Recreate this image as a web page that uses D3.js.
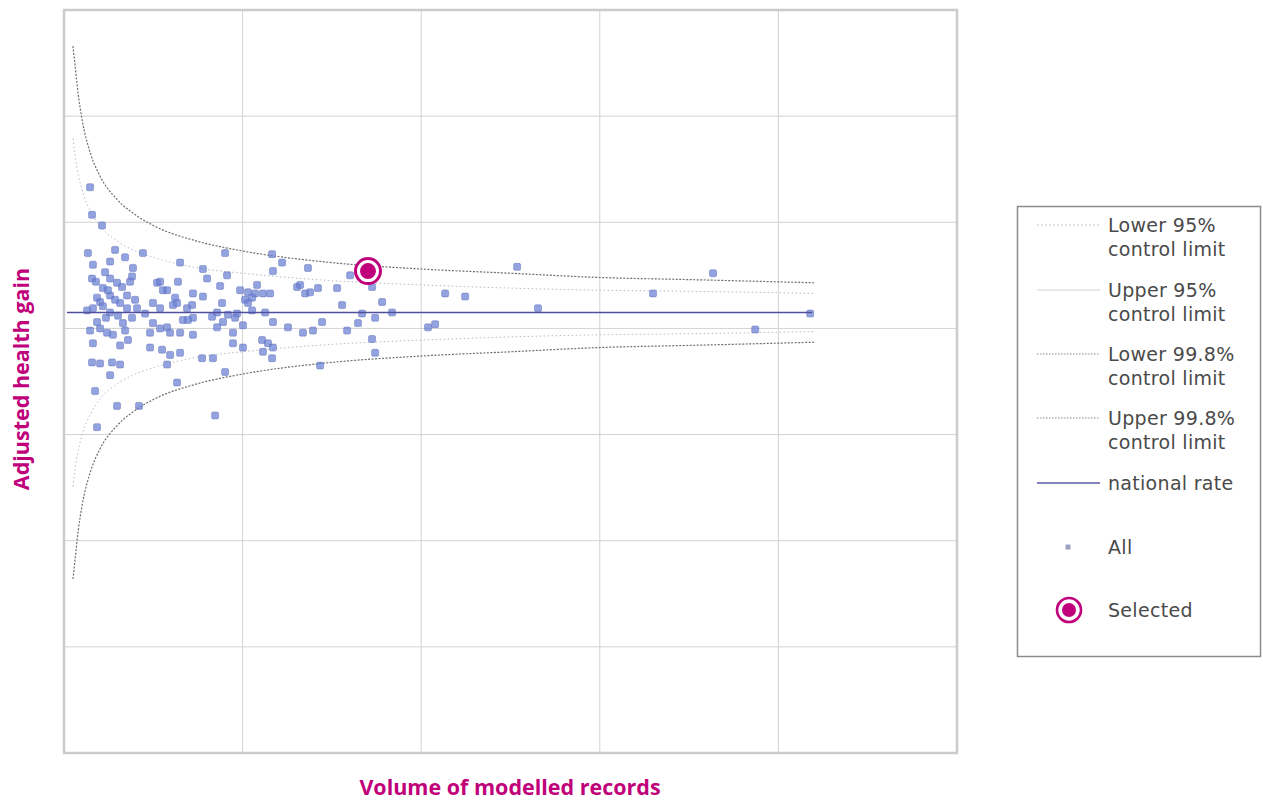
<!DOCTYPE html>
<html>
<head>
<meta charset="utf-8">
<script src="https://cdn.jsdelivr.net/npm/d3@7"></script>
<style>
    body { margin: 0; background: #fff; }
    svg { display: block; }
    .grid { stroke: #d2d2d2; stroke-width: 1; }
    .axisTitle { fill: #c0007a; font-family: "Open Sans", sans-serif; font-weight: bold; font-size: 21.5px; }
    .legendText { fill: #4a4a4a; font-family: "DejaVu Sans", Verdana, sans-serif; font-size: 19px; letter-spacing: 0.3px; }
</style>
</head>
<body>
<svg width="1263" height="802"></svg>
<script>
// values
const volumes = [146, 157, 213, 134, 286, 342, 162, 258, 386, 230, 381, 157, 258, 297, 218, 325, 370, 258, 353, 202,
    314, 409, 162, 218, 258, 353, 185, 241, 274, 330, 358, 162, 314, 157, 202, 269, 314, 258, 174, 297,
    420, 185, 129, 185, 286, 235, 202, 302, 381, 179, 246, 342, 398, 146, 442, 650, 778, 902, 801, 913,
    521, 638, 538, 554, 622, 498, 874, 722, 577, 778, 885, 610, 717, 857, 969, 538, 633, 689, 482, 538,
    594, 650, 482, 549, 594, 650, 577, 666, 722, 829, 918, 958, 890, 857, 722, 946, 946, 1002, 773, 834,
    902, 633, 846, 498, 577, 454, 694, 1030, 1070, 1114, 1154, 1014, 1053, 1030, 1053, 1126, 1170, 1002, 1109, 1142,
    1170, 1114, 1165, 1165, 1221, 1170, 1305, 1254, 1081, 986, 1366, 1602, 1725, 1322, 1350, 1378, 1422, 1529, 1781, 1557,
    1669, 1837, 1742, 1445, 1646, 1585, 1338, 1394, 1725, 1742, 1434, 2038, 2078, 2134, 2246, 2537, 2654, 3298, 3634, 3870,
    4178];
const gains = [53.3, 50.7, 49.7, 47.1, 47.4, 46.7, 46.0, 46.3, 45.7, 45.3, 44.9, 44.7, 44.7, 44.3, 43.8, 43.9, 44.4, 43.1, 43.1, 42.5,
    42.4, 41.9, 41.9, 42.1, 41.5, 41.9, 40.6, 39.6, 39.4, 40.5, 38.9, 38.6, 38.4, 36.8, 36.7, 36.8, 36.6, 35.6, 34.1, 32.7,
    32.7, 30.7, 41.7, 42.9, 42.7, 41.0, 40.0, 41.2, 41.0, 44.4, 43.6, 39.8, 42.7, 39.8, 47.1, 46.2, 45.6, 47.1, 44.7, 45.0,
    44.3, 44.4, 44.4, 43.6, 42.9, 42.4, 44.0, 43.3, 43.6, 43.0, 42.4, 42.2, 42.2, 41.5, 41.4, 41.9, 42.4, 41.9, 39.6, 40.0,
    39.6, 39.6, 38.2, 38.0, 37.5, 37.7, 36.6, 40.8, 41.0, 41.1, 41.3, 41.0, 40.6, 40.1, 39.4, 39.6, 38.6, 38.2, 37.2, 37.2,
    35.9, 34.9, 31.8, 40.5, 40.1, 41.4, 40.8, 43.4, 43.3, 43.3, 43.3, 42.7, 42.9, 42.4, 41.7, 41.5, 40.6, 40.3, 38.9, 38.6,
    38.2, 37.8, 37.2, 47.0, 46.2, 45.4, 43.9, 40.1, 44.1, 43.6, 45.7, 45.0, 43.9, 44.1, 43.3, 43.4, 43.8, 43.8, 42.5, 42.2,
    41.4, 41.5, 41.0, 40.6, 40.5, 39.8, 39.6, 39.8, 39.0, 37.7, 36.5, 40.1, 40.4, 43.3, 43.0, 45.8, 41.9, 43.3, 45.2, 39.9,
    41.4];
const selected = { volume: 1702, gain: 45.4 };

const nationalRate = 41.5;
const limitVolumes = [50, 60, 80, 100, 150, 200, 300, 400, 500, 750, 1000, 1500, 2000, 2500, 3000, 3500, 4200];
const upper998 = [66.6, 65.1, 62.0, 59.8, 56.4, 54.4, 52.1, 50.7, 49.7, 48.2, 47.3, 46.2, 45.6, 45.2, 44.8, 44.6, 44.3];
const lower998 = [16.4, 17.9, 21.0, 23.2, 26.6, 28.6, 30.9, 32.3, 33.3, 34.8, 35.7, 36.8, 37.4, 37.8, 38.2, 38.4, 38.7];
const upper95 = [57.9, 56.5, 54.5, 53.1, 51.0, 49.7, 48.2, 47.3, 46.7, 45.7, 45.2, 44.5, 44.1, 43.8, 43.6, 43.5, 43.3];
const lower95 = [25.1, 26.5, 28.5, 29.9, 32.0, 33.3, 34.8, 35.7, 36.3, 37.3, 37.8, 38.5, 38.9, 39.2, 39.4, 39.5, 39.7];

const xTicks = [1000, 2000, 3000, 4000];
const yTicks = [10, 20, 30, 40, 50, 60];

const legendItems = [
    { label: ["Lower 95%", "control limit"], type: "line", stroke: "#c4c8d0", dash: "2,2", width: 1 },
    { label: ["Upper 95%", "control limit"], type: "line", stroke: "#cdd0d8", dash: null, width: 1 },
    { label: ["Lower 99.8%", "control limit"], type: "line", stroke: "#8a8a8a", dash: "1.5,1.5", width: 1 },
    { label: ["Upper 99.8%", "control limit"], type: "line", stroke: "#8a8a8a", dash: "1.5,1.5", width: 1 },
    { label: ["national rate"], type: "line", stroke: "#5a5aa8", dash: null, width: 1.5 },
    { label: ["All"], type: "point" },
    { label: ["Selected"], type: "selected" }
];

const magenta = "#c0007a";
const plotLeft = 64, plotRight = 957, plotTop = 10, plotBottom = 753;

const svg = d3.select("svg");

const x = d3.scaleLinear().domain([0, 5000]).range([plotLeft, plotRight]);
const y = d3.scaleLinear().domain([0, 70]).range([plotBottom, plotTop]);

// gridlines
svg.append("g").selectAll("line")
    .data(xTicks)
    .enter().append("line")
    .attr("class", "grid")
    .attr("x1", d => x(d)).attr("x2", d => x(d))
    .attr("y1", plotTop).attr("y2", plotBottom);

svg.append("g").selectAll("line")
    .data(yTicks)
    .enter().append("line")
    .attr("class", "grid")
    .attr("x1", plotLeft).attr("x2", plotRight)
    .attr("y1", d => y(d)).attr("y2", d => y(d));

svg.append("rect")
    .attr("x", plotLeft).attr("y", plotTop)
    .attr("width", plotRight - plotLeft).attr("height", plotBottom - plotTop)
    .attr("fill", "none")
    .attr("stroke", "#cbcbcb")
    .attr("stroke-width", 2.5);

// control limits
const limitLine = vals => d3.line()
    .x((d, i) => x(limitVolumes[i]))
    .y((d, i) => y(vals[i]))
    .curve(d3.curveMonotoneX)(vals);

svg.append("path").attr("d", limitLine(upper95))
    .attr("fill", "none").attr("stroke", "#b4bccb").attr("stroke-width", 1).attr("stroke-dasharray", "1.5,2.5");
svg.append("path").attr("d", limitLine(lower95))
    .attr("fill", "none").attr("stroke", "#b4bccb").attr("stroke-width", 1).attr("stroke-dasharray", "1.5,2.5");
svg.append("path").attr("d", limitLine(upper998))
    .attr("fill", "none").attr("stroke", "#6e6e6e").attr("stroke-width", 1.2).attr("stroke-dasharray", "2,1.5");
svg.append("path").attr("d", limitLine(lower998))
    .attr("fill", "none").attr("stroke", "#6e6e6e").attr("stroke-width", 1.2).attr("stroke-dasharray", "2,1.5");

// points
const points = volumes.map((v, i) => ({ volume: v, gain: gains[i] }));

svg.append("g").selectAll("rect")
    .data(points)
    .enter().append("rect")
    .attr("x", d => x(d.volume) - 3.5)
    .attr("y", d => y(d.gain) - 3.5)
    .attr("width", 7).attr("height", 7)
    .attr("rx", 1.5)
    .attr("fill", "#6a80d4")
    .attr("fill-opacity", 0.72)
    .attr("stroke", "#5a6bb5")
    .attr("stroke-opacity", 0.45);

svg.append("line")
    .attr("x1", x(limitVolumes[0]) - 6).attr("x2", x(limitVolumes[limitVolumes.length - 1]) - 2)
    .attr("y1", y(nationalRate)).attr("y2", y(nationalRate))
    .attr("stroke", "#4f4f9e")
    .attr("stroke-width", 1.6);

// selected
const sel = svg.append("g").attr("transform", `translate(${x(selected.volume)},${y(selected.gain)})`);
sel.append("circle").attr("r", 12.5).attr("fill", "#fff").attr("stroke", magenta).attr("stroke-width", 3);
sel.append("circle").attr("r", 8).attr("fill", magenta);

// axis titles
svg.append("text")
    .attr("class", "axisTitle")
    .attr("text-anchor", "middle")
    .attr("transform", "translate(29,379) rotate(-90)")
    .text("Adjusted health gain");

svg.append("text")
    .attr("class", "axisTitle")
    .attr("text-anchor", "middle")
    .attr("x", 510).attr("y", 795)
    .text("Volume of modelled records");

// legend
const legend = svg.append("g");
legend.append("rect")
    .attr("x", 1017.5).attr("y", 206.5)
    .attr("width", 243).attr("height", 450)
    .attr("fill", "#fff")
    .attr("stroke", "#8c8c8c")
    .attr("stroke-width", 1.5);

const rowY = [225, 290, 354, 418, 483, 547, 610];

legendItems.forEach((item, i) => {
    const g = legend.append("g").attr("transform", `translate(0,${rowY[i]})`);
    if (item.type === "line") {
        g.append("line")
            .attr("x1", 1037).attr("x2", 1100)
            .attr("y1", 0).attr("y2", 0)
            .attr("stroke", item.stroke)
            .attr("stroke-width", item.width)
            .attr("stroke-dasharray", item.dash);
    } else if (item.type === "point") {
        g.append("rect")
            .attr("x", 1065.5).attr("y", -2.5)
            .attr("width", 5).attr("height", 5)
            .attr("fill", "#9aa2c0");
    } else {
        g.append("circle").attr("cx", 1069).attr("r", 12).attr("fill", "#fff").attr("stroke", magenta).attr("stroke-width", 2.6);
        g.append("circle").attr("cx", 1069).attr("r", 7).attr("fill", magenta);
    }
    item.label.forEach((t, j) => {
        g.append("text")
            .attr("class", "legendText")
            .attr("x", 1108)
            .attr("y", 7 + j * 24)
            .text(t);
    });
});
</script>
</body>
</html>
